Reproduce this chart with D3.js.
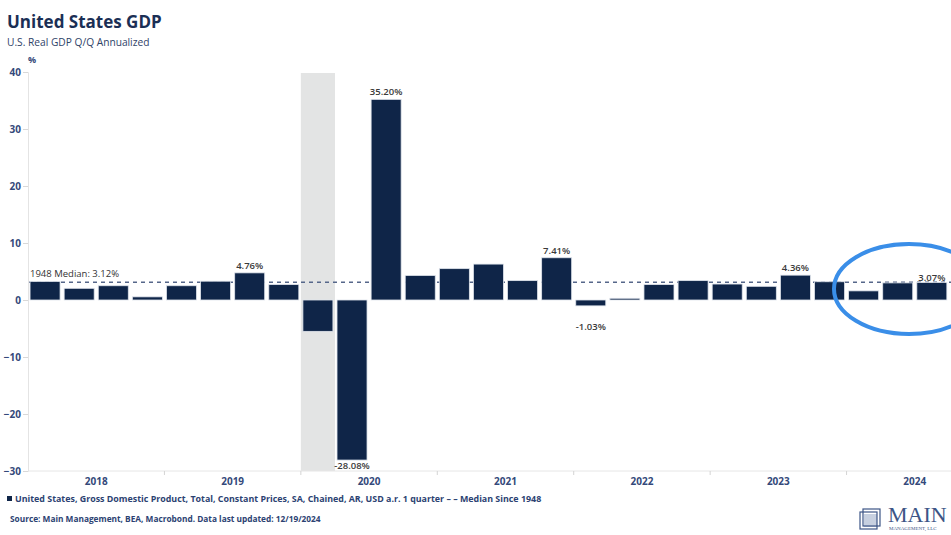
<!DOCTYPE html>
<html>
<head>
<meta charset="utf-8">
<script src="https://cdn.jsdelivr.net/npm/d3@7"></script>
<style>
  html, body { margin: 0; padding: 0; background: #ffffff; }
  svg { display: block; font-family: "Open Sans", "Noto Sans", sans-serif; }
</style>
</head>
<body>
<svg id="chart" width="951" height="535"></svg>
<script>
// ---- data ----
const quarters = [
  "2018Q1","2018Q2","2018Q3","2018Q4",
  "2019Q1","2019Q2","2019Q3","2019Q4",
  "2020Q1","2020Q2","2020Q3","2020Q4",
  "2021Q1","2021Q2","2021Q3","2021Q4",
  "2022Q1","2022Q2","2022Q3","2022Q4",
  "2023Q1","2023Q2","2023Q3","2023Q4",
  "2024Q1","2024Q2","2024Q3","2024Q4"
];
const gdpValues = [
  3.25, 2.05, 2.5, 0.55,
  2.5, 3.3, 4.76, 2.7,
  -5.5, -28.08, 35.2, 4.3,
  5.5, 6.3, 3.4, 7.41,
  -1.03, 0.3, 2.7, 3.4,
  2.8, 2.4, 4.36, 3.2,
  1.6, 3.0, 3.07
];
const labelledQuarters = ["2019Q3","2020Q2","2020Q3","2021Q4","2022Q1","2023Q3","2024Q3"];
const years = ["2018","2019","2020","2021","2022","2023","2024"];
const yTicks = [-30,-20,-10,0,10,20,30,40];
const medianValue = 3.12;
const recessionQuarters = ["2020Q1"];

// ---- layout ----
const svg = d3.select("#chart");
const navy = "#0f2548";
const axisText = "#34497a";

const x = d3.scaleBand().domain(quarters).range([28, 983]).paddingInner(0.12).paddingOuter(0.06);
const step = x.step();
const y = d3.scaleLinear().domain([-30, 40]).range([471, 72]);

// recession shading
svg.selectAll("rect.rec").data(recessionQuarters).enter().append("rect")
  .attr("class","rec")
  .attr("x", d => x(d) - x.paddingInner()*step/2)
  .attr("width", step)
  .attr("y", y(40) + 1)
  .attr("height", y(-30) - y(40) - 1)
  .attr("fill", "#e3e4e4");

// y axis
const yAxis = d3.axisLeft(y).tickValues(yTicks).tickSize(5).tickPadding(2).tickFormat(d3.format("d"));
const gy = svg.append("g").attr("transform","translate(28,0)").call(yAxis);
gy.select(".domain").attr("stroke","#e4e4e4");
gy.selectAll(".tick line").attr("stroke","#d8d8d8");
gy.selectAll(".tick text").attr("fill",axisText).attr("font-size",10).attr("font-weight",700)
  .attr("font-family","'Open Sans', sans-serif");

svg.append("text").attr("x",28).attr("y",63).text("%")
  .attr("font-size",9).attr("font-weight",700).attr("fill",axisText);

// x axis line and year separators
svg.append("line").attr("x1",28).attr("x2",951).attr("y1",y(-30)).attr("y2",y(-30))
  .attr("stroke","#e6e6e6").attr("stroke-width",1);
const yearStart = yr => x(yr + "Q1") - x.paddingInner()*step/2;
svg.selectAll("line.sep").data(years.slice(1)).enter().append("line")
  .attr("class","sep")
  .attr("x1", d => yearStart(d)).attr("x2", d => yearStart(d))
  .attr("y1", y(-30)).attr("y2", y(-30) + 4)
  .attr("stroke","#d4d4d4");
svg.selectAll("text.year").data(years).enter().append("text")
  .attr("class","year")
  .attr("x", d => yearStart(d) + step*2)
  .attr("y", 485)
  .attr("text-anchor","middle")
  .attr("font-size",10).attr("font-weight",700).attr("fill",axisText)
  .text(d => d);

// median line (behind bars)
svg.append("line").attr("x1",29).attr("x2",951).attr("y1",y(medianValue)).attr("y2",y(medianValue))
  .attr("stroke","#56678a").attr("stroke-width",1.6).attr("stroke-dasharray","4,4");

// bars
const data = gdpValues.map((v,i) => ({q: quarters[i], v}));
svg.selectAll("rect.bar").data(data).enter().append("rect")
  .attr("class","bar")
  .attr("x", d => x(d.q))
  .attr("width", x.bandwidth())
  .attr("y", d => y(Math.max(0, d.v)))
  .attr("height", d => Math.max(1, Math.abs(y(d.v) - y(0))))
  .attr("fill", navy)
  .attr("stroke", "#dfe4ec").attr("stroke-width", 0.8);

// value labels
const negDy = { "2020Q2": 9, "2022Q1": 24 };
const posDy = { "2024Q3": -2 };
svg.selectAll("text.vlab").data(data.filter(d => labelledQuarters.includes(d.q))).enter().append("text")
  .attr("class","vlab")
  .attr("x", d => x(d.q) + x.bandwidth()/2)
  .attr("y", d => d.v >= 0 ? y(d.v) + (posDy[d.q] !== undefined ? posDy[d.q] : -4) : y(d.v) + (negDy[d.q] || 12))
  .attr("text-anchor","middle")
  .attr("font-size",9.5).attr("font-weight",600).attr("fill","#3a3a3a")
  .text(d => d.v.toFixed(2) + "%");

// median label
svg.append("text").attr("x",30).attr("y",277)
  .attr("font-size",9.5).attr("font-weight",400).attr("fill","#333")
  .text("1948 Median: " + medianValue.toFixed(2) + "%");

// title
svg.append("text").attr("x",7).attr("y",28).text("United States GDP")
  .attr("font-size",17).attr("font-weight",700).attr("fill","#1b2f55");
svg.append("text").attr("x",7).attr("y",46).text("U.S. Real GDP Q/Q Annualized")
  .attr("font-size",10.2).attr("fill","#2f4368");

// legend
svg.append("rect").attr("x",7).attr("y",496).attr("width",5).attr("height",5).attr("fill",navy);
svg.append("text").attr("x",15).attr("y",502)
  .attr("font-size",8.9).attr("font-weight",700).attr("fill","#2c4272")
  .text("United States, Gross Domestic Product, Total, Constant Prices, SA, Chained, AR, USD a.r. 1 quarter \u2013 \u2013 Median Since 1948");

// source
svg.append("text").attr("x",10).attr("y",522)
  .attr("font-size",8.3).attr("font-weight",700).attr("fill","#2c4272")
  .text("Source: Main Management, BEA, Macrobond. Data last updated: 12/19/2024");

// logo
const logo = svg.append("g").attr("fill","none").attr("stroke","#3d5586").attr("stroke-width",1.2);
logo.append("rect").attr("x",864).attr("y",514).attr("width",13).attr("height",13).attr("fill","#c7d0e0").attr("stroke","none");
logo.append("rect").attr("x",860).attr("y",512).attr("width",17).attr("height",17);
logo.append("rect").attr("x",863).attr("y",509).attr("width",17).attr("height",17);
svg.append("text").attr("x",888).attr("y",522).text("MAIN")
  .attr("font-family","'Liberation Serif', 'DejaVu Serif', serif").attr("font-size",22).attr("fill","#3d5586");
svg.append("text").attr("x",889).attr("y",530).text("MANAGEMENT, LLC")
  .attr("font-family","'Liberation Serif', serif").attr("font-size",5).attr("fill","#3d5586");

// highlight ellipse
svg.append("ellipse").attr("cx",909).attr("cy",289).attr("rx",75).attr("ry",45)
  .attr("fill","none").attr("stroke","#3a8ee8").attr("stroke-width",4);
</script>
</body>
</html>
